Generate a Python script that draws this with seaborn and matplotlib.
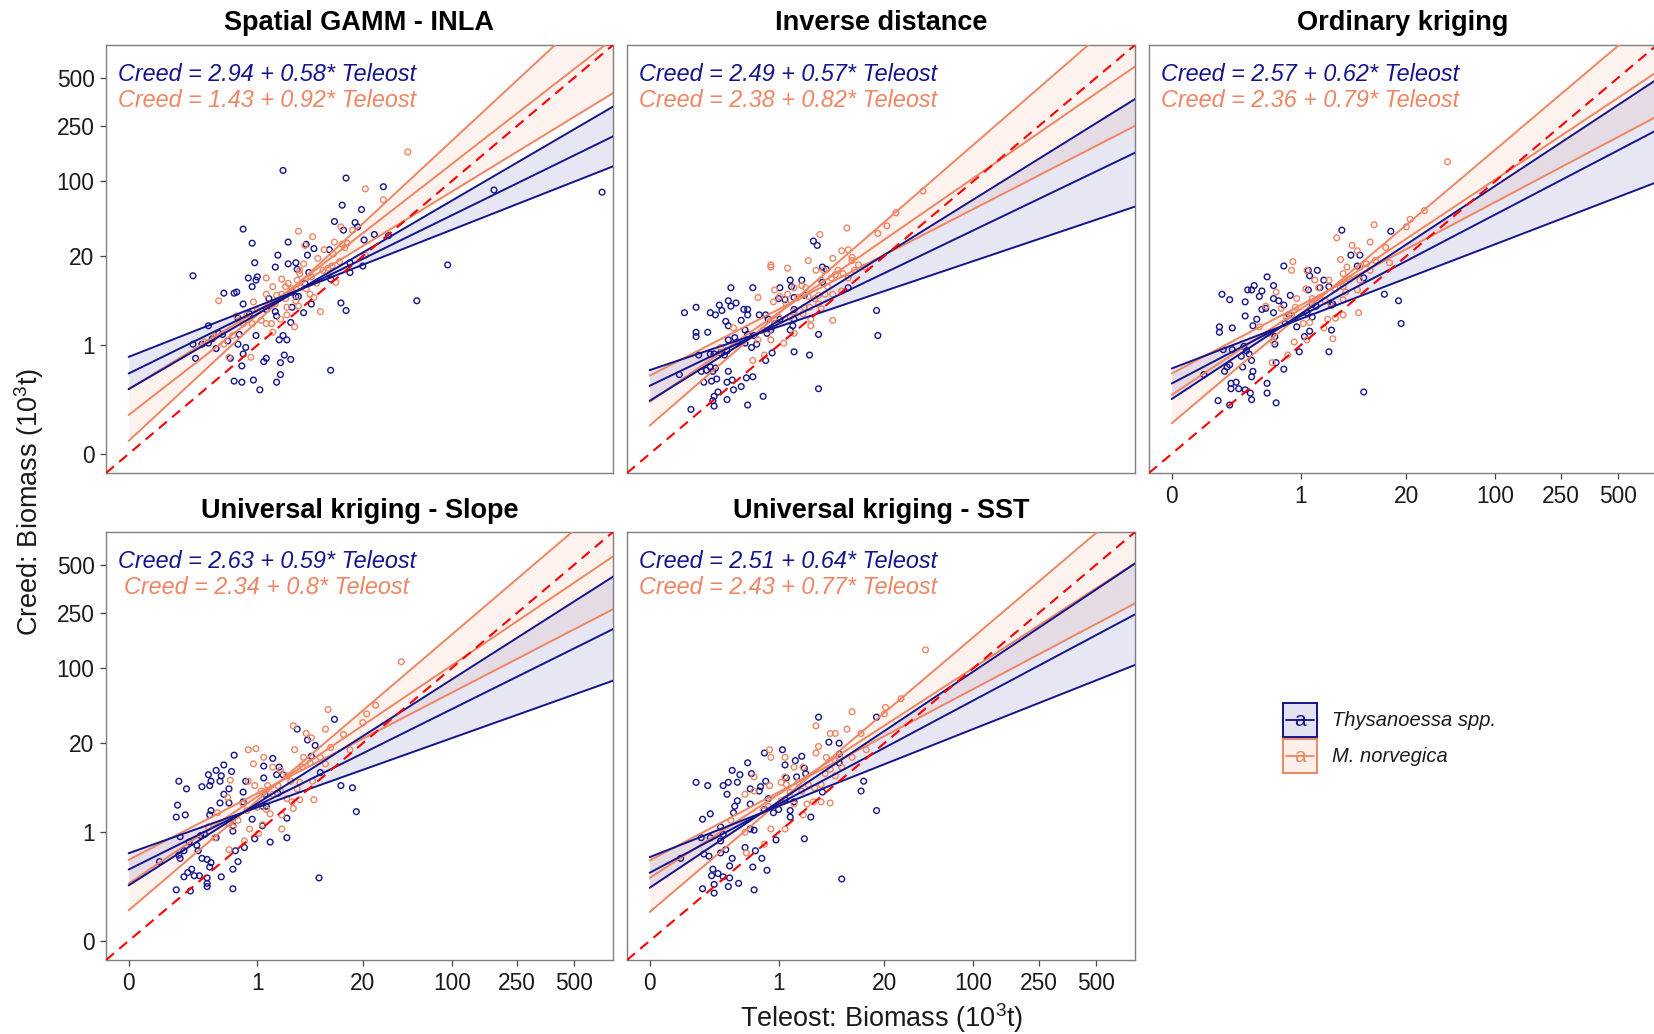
import matplotlib
matplotlib.use("Agg")
import matplotlib.pyplot as plt
import matplotlib.colors as mcolors
import numpy as np
import pandas as pd
import seaborn as sns
from matplotlib.patches import Rectangle

sns.set_theme(style="white")
plt.rcParams["font.family"] = ["Liberation Sans", "DejaVu Sans"]
plt.rcParams["mathtext.fontset"] = "custom"
plt.rcParams["mathtext.rm"] = "Liberation Sans"
plt.rcParams["mathtext.it"] = "Liberation Sans:italic"

# ---------------------------------------------------------------- data
PANEL_TITLES = ["Spatial GAMM - INLA", "Inverse distance", "Ordinary kriging",
                "Universal kriging - Slope", "Universal kriging - SST"]
SPECIES = ["Thysanoessa spp.", "M. norvegica"]
TICK_LABELS = [0, 1, 20, 100, 250, 500]          # biomass (10^3 t), fifth-root axis
THY_EQ = ["Creed = 2.94 + 0.58* Teleost", "Creed = 2.49 + 0.57* Teleost",
          "Creed = 2.57 + 0.62* Teleost", "Creed = 2.63 + 0.59* Teleost",
          "Creed = 2.51 + 0.64* Teleost"]
MNO_EQ = ["Creed = 1.43 + 0.92* Teleost", "Creed = 2.38 + 0.82* Teleost",
          "Creed = 2.36 + 0.79* Teleost", "Creed = 2.34 + 0.8* Teleost",
          "Creed = 2.43 + 0.77* Teleost"]

# points on the fifth-root scale (Teleost, Creed)
GAMM_THY = [(1.20,2.61),(1.69,2.54),(1.98,2.46),(1.66,2.29),(1.81,2.25),(0.89,2.07),(1.60,2.14),(1.76,2.13),
            (1.67,2.06),(1.78,2.09),(0.96,1.94),(1.24,1.95),(1.91,2.02),(1.83,1.97),(2.02,2.01),(2.84,2.43),
            (3.68,2.41),(0.50,1.64),(0.98,1.76),(1.16,1.83),(1.14,1.72),(1.24,1.75),(1.30,1.76),(1.31,1.70),
            (1.39,1.83),(1.38,1.93),(1.44,1.89),(1.56,1.88),(1.40,1.67),(1.57,1.61),(1.72,1.76),(1.82,1.73),
            (1.72,1.67),(2.48,1.74),(0.93,1.62),(1.00,1.63),(0.99,1.60),(0.96,1.54),(0.74,1.48),(0.82,1.48),
            (0.84,1.49),(1.09,1.43),(1.27,1.49),(1.30,1.45),(1.32,1.45),(1.37,1.57),(1.36,1.30),(1.42,1.38),
            (1.27,1.35),(0.89,1.38),(0.94,1.29),(0.85,1.25),(1.07,1.33),(1.14,1.31),(1.15,1.27),(1.65,1.39),
            (1.69,1.32),(2.24,1.41),(1.26,1.21),(0.62,1.18),(0.70,1.11),(0.73,1.10),(0.65,1.06),(0.50,1.01),
            (0.57,1.01),(0.62,1.02),(0.68,0.97),(0.77,1.04),(0.86,1.10),(0.85,1.01),(0.99,1.09),(1.20,1.09),
            (1.17,1.05),(1.23,1.05),(0.52,0.88),(0.79,0.88),(0.91,0.98),(0.89,0.92),(0.88,0.81),(1.07,0.88),
            (1.05,0.85),(1.18,0.84),(1.21,0.91),(1.26,0.87),(0.82,0.67),(0.88,0.66),(0.97,0.68),(1.02,0.59),
            (1.15,0.66),(1.18,0.73),(1.57,0.77)]
GAMM_MNO = [(2.17,2.78),(1.84,2.44),(1.98,2.34),(1.32,2.05),(1.43,2.00),(1.65,2.09),(1.74,2.06),(1.60,1.95),
            (1.66,1.93),(1.70,1.94),(1.52,1.88),(1.37,1.92),(1.47,1.80),(1.36,1.75),(1.33,1.69),(1.51,1.69),
            (1.55,1.71),(1.58,1.73),(1.64,1.77),(1.84,1.83),(1.61,1.58),(1.56,1.64),(1.42,1.63),(1.07,1.62),
            (1.12,1.54),(1.19,1.61),(1.22,1.54),(1.24,1.57),(1.31,1.60),(1.34,1.53),(1.41,1.47),(1.19,1.47),
            (1.22,1.43),(1.30,1.41),(1.32,1.36),(1.44,1.44),(1.49,1.31),(1.14,1.38),(1.07,1.47),(0.97,1.40),
            (0.70,1.41),(0.84,1.27),(0.92,1.28),(0.96,1.20),(1.03,1.23),(1.07,1.20),(1.11,1.20),(1.18,1.24),
            (1.23,1.28),(1.29,1.17),(1.12,1.12),(0.81,1.09),(0.74,1.01),(0.78,0.89),(0.95,0.89),(0.67,1.08),
            (0.59,1.03),(1.33,1.66),(1.46,1.57),(1.38,1.52),(1.27,1.52),(1.15,1.46),(1.09,1.38),(1.00,1.32),
            (0.89,1.20),(1.23,1.35),(1.59,1.84),(1.68,1.90)]
IDW_THY = [(1.27,1.96),(1.30,1.92),(0.63,1.53),(0.80,1.53),(1.01,1.53),(1.09,1.60),(1.18,1.60),(1.10,1.54),
           (1.05,1.42),(1.12,1.44),(1.20,1.46),(1.34,1.72),(1.37,1.70),(1.34,1.58),(1.54,1.53),(1.76,1.32),
           (1.77,1.09),(1.31,1.10),(1.31,0.60),(0.88,0.53),(0.76,0.45),(0.32,0.41),(0.27,1.30),(0.36,1.35),
           (0.47,1.30),(0.51,1.28),(0.54,1.37),(0.56,1.32),(0.61,1.41),(0.67,1.39),(0.63,1.36),(0.73,1.33),
           (0.76,1.33),(0.76,1.28),(0.71,1.23),(0.59,1.22),(0.61,1.18),(0.45,1.12),(0.36,1.12),(0.36,1.08),
           (0.23,0.73),(0.38,0.91),(0.47,0.92),(0.50,0.92),(0.55,0.93),(0.58,0.91),(0.60,0.95),(0.66,1.07),
           (0.61,1.05),(0.68,1.03),(0.74,1.02),(0.76,1.10),(0.74,1.14),(0.79,0.98),(0.83,1.01),(0.85,1.28),
           (0.90,1.28),(0.92,1.24),(0.94,1.14),(1.01,1.24),(0.91,1.11),(0.95,0.93),(0.90,0.86),(1.12,0.94),
           (1.24,0.91),(1.09,1.14),(1.11,1.18),(1.12,1.24),(1.12,1.33),(0.40,0.76),(0.44,0.77),(0.47,0.80),
           (0.51,0.79),(0.49,0.76),(0.61,0.76),(0.52,0.69),(0.42,0.66),(0.48,0.67),(0.60,0.66),(0.64,0.68),
           (0.65,0.59),(0.71,0.62),(0.75,0.70),(0.80,0.71),(0.53,0.57),(0.50,0.53),(0.49,0.49),(0.50,0.44),
           (0.60,0.50),(1.00,1.43),(0.97,1.20),(0.81,1.09)]
IDW_MNO = [(2.12,2.42),(1.91,2.22),(1.84,2.10),(1.77,2.03),(1.53,2.08),(1.32,2.02),(1.49,1.87),(1.54,1.88),
           (1.57,1.78),(1.62,1.74),(1.67,1.72),(1.23,1.78),(1.42,1.80),(1.29,1.69),(1.35,1.69),(1.41,1.62),
           (1.46,1.69),(1.50,1.66),(1.54,1.62),(0.94,1.74),(0.94,1.72),(1.07,1.71),(1.18,1.55),(1.21,1.53),
           (0.97,1.51),(1.01,1.45),(0.96,1.40),(1.07,1.47),(0.84,1.44),(1.06,1.38),(1.15,1.44),(1.23,1.45),
           (1.28,1.43),(1.31,1.46),(1.36,1.47),(1.38,1.54),(1.42,1.47),(1.49,1.50),(1.42,1.23),(1.25,1.24),
           (1.25,1.18),(1.33,1.34),(1.24,1.35),(1.19,1.29),(1.12,1.31),(1.09,1.26),(1.00,1.26),(0.97,1.20),
           (0.93,1.14),(0.88,1.14),(0.84,1.05),(0.94,1.05),(1.04,1.02),(0.89,0.91),(0.80,0.86),(0.65,1.16),
           (0.55,0.98),(1.12,1.11),(1.20,1.35),(1.33,1.60),(1.59,1.69),(1.57,1.81),(1.12,1.53),(1.31,1.38),
           (1.44,1.65)]
OK_THY = [(1.32,2.06),(1.70,2.05),(1.39,1.83),(1.46,1.83),(1.44,1.73),(1.49,1.62),(0.87,1.73),(1.06,1.69),
          (1.13,1.69),(1.07,1.64),(1.18,1.60),(1.22,1.54),(1.15,1.53),(0.74,1.63),(0.79,1.55),(0.64,1.55),
          (0.59,1.51),(0.62,1.51),(0.70,1.50),(0.68,1.45),(0.39,1.47),(0.45,1.42),(0.57,1.40),(0.79,1.43),
          (0.83,1.41),(0.87,1.37),(0.92,1.46),(1.06,1.51),(1.12,1.36),(1.24,1.37),(1.65,1.47),(1.76,1.41),
          (1.78,1.20),(0.57,1.27),(0.63,1.18),(0.66,1.24),(0.70,1.33),(0.73,1.34),(0.79,1.30),(0.91,1.28),
          (0.88,1.20),(0.97,1.17),(1.05,1.30),(1.09,1.26),(1.07,1.13),(1.03,1.08),(1.24,1.14),(1.22,0.94),
          (0.99,0.94),(0.37,1.17),(0.37,1.12),(0.47,1.16),(0.40,0.96),(0.47,0.96),(0.25,0.73),(0.41,0.76),
          (0.43,0.80),(0.45,0.82),(0.56,0.99),(0.54,0.90),(0.58,0.95),(0.60,0.92),(0.55,0.80),(0.63,0.76),
          (0.62,0.71),(0.62,0.86),(0.80,1.08),(0.80,1.01),(0.87,0.78),(0.81,0.84),(0.74,0.65),(0.74,0.56),
          (0.81,0.47),(0.61,0.56),(0.62,0.50),(0.46,0.65),(0.46,0.60),(0.50,0.66),(0.52,0.60),(0.57,0.59),
          (0.36,0.49),(0.45,0.45),(1.49,0.57),(1.09,1.38),(1.25,1.38)]
OK_MNO = [(2.14,2.69),(1.96,2.24),(1.85,2.16),(1.82,2.09),(1.57,2.11),(1.54,1.95),(1.28,1.99),(1.40,1.92),
          (1.44,1.87),(1.66,1.90),(1.69,1.76),(1.31,1.79),(1.36,1.72),(1.51,1.75),(1.54,1.69),(1.58,1.78),
          (1.05,1.69),(0.94,1.77),(0.93,1.69),(1.33,1.66),(1.38,1.61),(1.46,1.60),(1.44,1.51),(1.27,1.52),
          (1.15,1.44),(1.11,1.60),(1.04,1.52),(0.97,1.43),(1.09,1.43),(1.19,1.41),(1.23,1.39),(1.33,1.42),
          (1.35,1.49),(1.45,1.30),(1.33,1.28),(1.27,1.25),(1.21,1.24),(1.18,1.16),(1.25,1.06),(1.07,1.21),
          (1.02,1.20),(0.93,1.28),(0.85,1.34),(0.81,1.49),(0.73,1.36),(0.68,1.17),(0.75,1.11),(0.79,1.03),
          (0.95,1.03),(0.90,0.91),(0.78,0.84),(1.05,1.05),(0.96,1.35),(0.89,1.26),(1.46,1.72),(1.22,1.60),
          (1.14,1.53),(1.33,1.54)]
UKS_THY = [(1.31,1.95),(1.60,2.04),(1.39,1.85),(1.45,1.80),(1.42,1.70),(1.49,1.55),(0.82,1.71),(0.74,1.62),
           (1.05,1.61),(1.12,1.68),(1.17,1.60),(1.20,1.53),(1.15,1.53),(1.05,1.50),(0.80,1.56),(0.68,1.57),
           (0.62,1.53),(0.72,1.52),(0.71,1.47),(0.64,1.47),(0.57,1.42),(0.63,1.43),(0.39,1.47),(0.45,1.40),
           (0.78,1.40),(0.91,1.47),(0.89,1.37),(0.89,1.28),(1.06,1.35),(1.16,1.36),(1.65,1.43),(1.74,1.41),
           (1.77,1.19),(0.38,1.25),(0.44,1.16),(0.37,1.14),(0.64,1.20),(0.63,1.16),(0.71,1.27),(0.78,1.27),
           (0.74,1.35),(0.81,1.06),(0.81,1.01),(0.96,1.12),(1.04,1.24),(1.07,1.24),(1.04,1.06),(1.10,0.91),
           (0.98,0.94),(1.23,0.95),(1.23,1.13),(0.40,0.96),(0.47,0.91),(0.24,0.73),(0.39,0.79),(0.40,0.76),
           (0.43,0.83),(0.53,0.88),(0.54,0.83),(0.56,0.97),(0.59,0.98),(0.57,0.76),(0.61,0.75),(0.64,0.72),
           (0.63,0.68),(0.68,0.95),(0.83,0.83),(0.90,0.86),(0.85,0.73),(0.81,0.66),(0.72,0.59),(0.49,0.66),
           (0.51,0.60),(0.55,0.60),(0.43,0.59),(0.46,0.63),(0.61,0.58),(0.61,0.53),(0.61,0.50),(0.37,0.47),
           (0.48,0.46),(0.81,0.48),(1.48,0.58)]
UKS_MNO = [(2.12,2.57),(1.55,2.13),(1.92,2.17),(1.85,2.09),(1.82,2.01),(1.53,1.95),(1.28,1.98),(1.38,1.91),
           (1.42,1.87),(1.57,1.78),(1.67,1.90),(1.72,1.76),(1.29,1.76),(1.36,1.69),(1.41,1.64),(1.49,1.69),
           (1.53,1.63),(0.93,1.76),(0.99,1.77),(0.97,1.63),(1.05,1.69),(0.93,1.47),(0.98,1.43),(1.12,1.60),
           (1.18,1.57),(1.23,1.52),(1.26,1.47),(1.33,1.46),(1.35,1.60),(1.31,1.40),(1.03,1.38),(1.08,1.43),
           (1.16,1.43),(1.18,1.38),(1.23,1.31),(1.27,1.28),(1.33,1.30),(1.44,1.30),(1.28,1.22),(1.19,1.16),
           (1.10,1.17),(1.07,1.21),(1.00,1.23),(0.89,1.26),(0.92,1.20),(0.79,1.48),(0.77,1.32),(0.69,1.18),
           (0.67,0.95),(0.78,1.08),(0.81,1.05),(0.94,1.03),(1.01,0.99),(1.04,1.07),(1.19,1.03),(0.78,0.84),
           (0.90,0.92),(0.85,1.11),(0.62,1.05),(1.43,1.47),(1.12,1.35)]
UKT_THY = [(1.31,2.06),(1.76,2.06),(1.39,1.83),(1.47,1.82),(1.47,1.72),(1.47,1.64),(1.03,1.76),(0.89,1.73),
           (1.13,1.66),(1.18,1.70),(1.05,1.62),(1.20,1.59),(1.21,1.54),(1.14,1.51),(1.06,1.50),(0.76,1.64),
           (0.79,1.54),(0.64,1.57),(0.70,1.53),(0.68,1.46),(0.61,1.46),(0.57,1.43),(0.60,1.35),(0.36,1.46),
           (0.45,1.43),(0.78,1.40),(0.86,1.42),(0.90,1.47),(0.85,1.38),(0.78,1.26),(0.68,1.29),(0.66,1.24),
           (0.65,1.18),(0.89,1.21),(0.92,1.31),(0.96,1.18),(1.00,1.21),(1.05,1.30),(1.12,1.28),(1.09,1.20),
           (1.09,1.14),(1.25,1.14),(1.34,1.37),(1.64,1.38),(1.66,1.47),(1.76,1.20),(0.47,1.17),(0.41,1.12),
           (0.55,1.05),(0.57,0.98),(0.55,0.92),(0.40,0.95),(0.47,0.95),(0.24,0.76),(0.42,0.80),(0.46,0.78),
           (0.55,0.81),(0.59,0.84),(0.62,0.69),(0.64,0.76),(0.78,1.03),(0.81,1.02),(0.98,0.93),(1.20,0.94),
           (0.74,0.86),(0.82,0.83),(0.87,0.76),(0.91,0.65),(0.80,0.68),(0.49,0.66),(0.48,0.60),(0.53,0.62),
           (0.57,0.59),(0.62,0.58),(0.61,0.50),(0.69,0.53),(0.41,0.48),(0.50,0.52),(0.50,0.44),(0.81,0.47),
           (1.49,0.57)]
UKT_MNO = [(2.14,2.68),(1.95,2.23),(1.83,2.15),(1.82,2.09),(1.57,2.11),(1.53,1.95),(1.29,1.98),(1.40,1.91),
           (1.44,1.91),(1.64,1.91),(1.68,1.76),(1.31,1.79),(1.29,1.73),(1.37,1.69),(1.47,1.69),(1.57,1.69),
           (0.93,1.76),(0.94,1.69),(1.05,1.69),(1.12,1.60),(1.19,1.60),(1.05,1.51),(1.02,1.46),(0.93,1.43),
           (1.06,1.44),(1.15,1.46),(1.18,1.38),(1.23,1.44),(1.28,1.41),(1.33,1.44),(1.36,1.54),(1.40,1.58),
           (1.44,1.52),(1.09,1.37),(1.12,1.26),(1.22,1.26),(1.27,1.28),(1.33,1.28),(1.40,1.27),(1.19,1.16),
           (1.02,1.29),(0.92,1.24),(0.88,1.20),(0.81,1.51),(0.81,1.38),(0.74,1.35),(0.63,1.11),(0.74,1.00),
           (0.94,1.03),(1.05,1.03),(0.89,0.89),(1.44,1.66),(1.49,1.60),(0.75,0.81)]

THY_POINTS = [GAMM_THY, IDW_THY, OK_THY, UKS_THY, UKT_THY]
MNO_POINTS = [GAMM_MNO, IDW_MNO, OK_MNO, UKS_MNO, UKT_MNO]

# fitted lines on the fifth-root scale: value at Teleost = 0 and slope
THY_STEEP_A = [0.596, 0.489, 0.505, 0.511, 0.489]
THY_STEEP_B = [0.691, 0.738, 0.782, 0.755, 0.793]
THY_MID_A   = [0.740, 0.627, 0.648, 0.657, 0.627]
THY_MID_B   = [0.580, 0.570, 0.620, 0.588, 0.632]
THY_FLAT_A  = [0.893, 0.771, 0.786, 0.807, 0.771]
THY_FLAT_B  = [0.466, 0.400, 0.456, 0.422, 0.470]
MNO_STEEP_A = [0.119, 0.260, 0.281, 0.281, 0.266]
MNO_STEEP_B = [1.100, 1.030, 1.004, 1.011, 1.008]
MNO_MID_A   = [0.358, 0.480, 0.543, 0.528, 0.580]
MNO_MID_B   = [0.920, 0.820, 0.790, 0.800, 0.770]
MNO_FLAT_A  = [0.596, 0.720, 0.740, 0.746, 0.740]
MNO_FLAT_B  = [0.724, 0.611, 0.629, 0.613, 0.629]

# ---------------------------------------------------------------- style
BLUE = "#14148C"
ORANGE = "#EF8562"
BORDER = "#7F7F7F"
TXT = "#1A1A1A"
LIM = (-0.176, 3.765)
TICK_POS = [v ** 0.2 for v in TICK_LABELS]

W, H = 1654, 1034
fig = plt.figure(figsize=(W / 100, H / 100), dpi=100)
fig.patch.set_facecolor("white")

def px_axes(left, top, right, bottom):
    return fig.add_axes([left / W, 1 - bottom / H, (right - left) / W, (bottom - top) / H])

BOXES = [(106, 45, 613, 473), (627, 45, 1135, 473), (1149, 45, 1657, 473),
         (106, 532, 613, 960), (627, 532, 1135, 960)]
SHOW_X = [False, False, True, True, True]
SHOW_Y = [True, False, False, True, False]

xs = np.linspace(0, LIM[1], 80)
for i, box in enumerate(BOXES):
    ax = px_axes(*box)
    ax.set_xlim(LIM)
    ax.set_ylim(LIM)
    ax.set_facecolor("white")

    fits = [
        (MNO_POINTS[i], ORANGE, MNO_STEEP_A[i], MNO_STEEP_B[i], MNO_MID_A[i], MNO_MID_B[i], MNO_FLAT_A[i], MNO_FLAT_B[i]),
        (THY_POINTS[i], BLUE, THY_STEEP_A[i], THY_STEEP_B[i], THY_MID_A[i], THY_MID_B[i], THY_FLAT_A[i], THY_FLAT_B[i]),
    ]
    # ribbons
    for pts, col, sa, sb, ma, mb, fa, fb in fits:
        ax.fill_between(xs, sa + sb * xs, fa + fb * xs, color=col, alpha=0.10, lw=0, zorder=1)
    # points
    for pts, col, sa, sb, ma, mb, fa, fb in [fits[1], fits[0]]:
        df = pd.DataFrame(pts, columns=["teleost", "creed"])
        sns.scatterplot(data=df, x="teleost", y="creed", ax=ax, color=col, s=17,
                        linewidth=1.0, legend=False, zorder=2)
        coll = ax.collections[-1]
        coll.set_facecolor("none")
        coll.set_edgecolor(col)
    # lines
    for pts, col, sa, sb, ma, mb, fa, fb in fits:
        for a, b in [(sa, sb), (ma, mb), (fa, fb)]:
            sns.lineplot(x=xs, y=a + b * xs, ax=ax, color=col, linewidth=1.4,
                         estimator=None, sort=False, zorder=3)
    # 1:1 line
    ax.plot(LIM, LIM, color="red", lw=1.5, ls=(0, (5, 3.3)), zorder=4)

    ax.text(1.075, 3.43, THY_EQ[i], color=BLUE, fontsize=16.8, style="italic",
            ha="center", va="baseline", zorder=5)
    ax.text(1.075, 3.19, MNO_EQ[i], color=ORANGE, fontsize=16.8, style="italic",
            ha="center", va="baseline", zorder=5)

    ax.text(0.5, 1 + 14.5 / 428, PANEL_TITLES[i], transform=ax.transAxes, ha="center",
            va="baseline", fontsize=19.5, fontweight="bold", color="black")

    for sp in ax.spines.values():
        sp.set_color(BORDER)
        sp.set_linewidth(1.0)
    ax.set_xticks(TICK_POS)
    ax.set_yticks(TICK_POS)
    ax.set_xticklabels([str(v) for v in TICK_LABELS])
    ax.set_yticklabels([str(v) for v in TICK_LABELS])
    ax.tick_params(axis="both", length=4.3, width=0.9, color="#444444",
                   labelsize=16.4, labelcolor=TXT, pad=4)
    ax.tick_params(axis="x", bottom=SHOW_X[i], labelbottom=SHOW_X[i])
    ax.tick_params(axis="y", left=SHOW_Y[i], labelleft=SHOW_Y[i])
    ax.set_xlabel("")
    ax.set_ylabel("")
    ax.grid(False)

fig.text(882 / W, 1 - 1018 / H, "Teleost: Biomass (10$^3$t)", ha="center", va="center",
         fontsize=19.5, color=TXT)
fig.text(29 / W, 1 - 502 / H, "Creed: Biomass (10$^3$t)", ha="center", va="center",
         rotation=90, fontsize=19.5, color=TXT)

# legend
lax = px_axes(1270, 690, 1500, 790)
lax.set_xlim(1270, 1500)
lax.set_ylim(790, 690)
lax.axis("off")
for k, (name, col) in enumerate(zip(SPECIES, [BLUE, ORANGE])):
    top = 703 + 36 * k
    lax.add_patch(Rectangle((1283, top), 34, 34, facecolor=mcolors.to_rgba(col, 0.12),
                            edgecolor=col, lw=1.4))
    lax.plot([1286, 1314], [top + 17, top + 17], color=col, lw=1.3)
    lax.text(1300, top + 18, "a", color=col, fontsize=15, ha="center", va="center")
    lax.text(1332, top + 17.5, name, color=TXT, fontsize=14.5, style="italic",
             ha="left", va="center")

fig.savefig("out.png", dpi=100, facecolor="white")
